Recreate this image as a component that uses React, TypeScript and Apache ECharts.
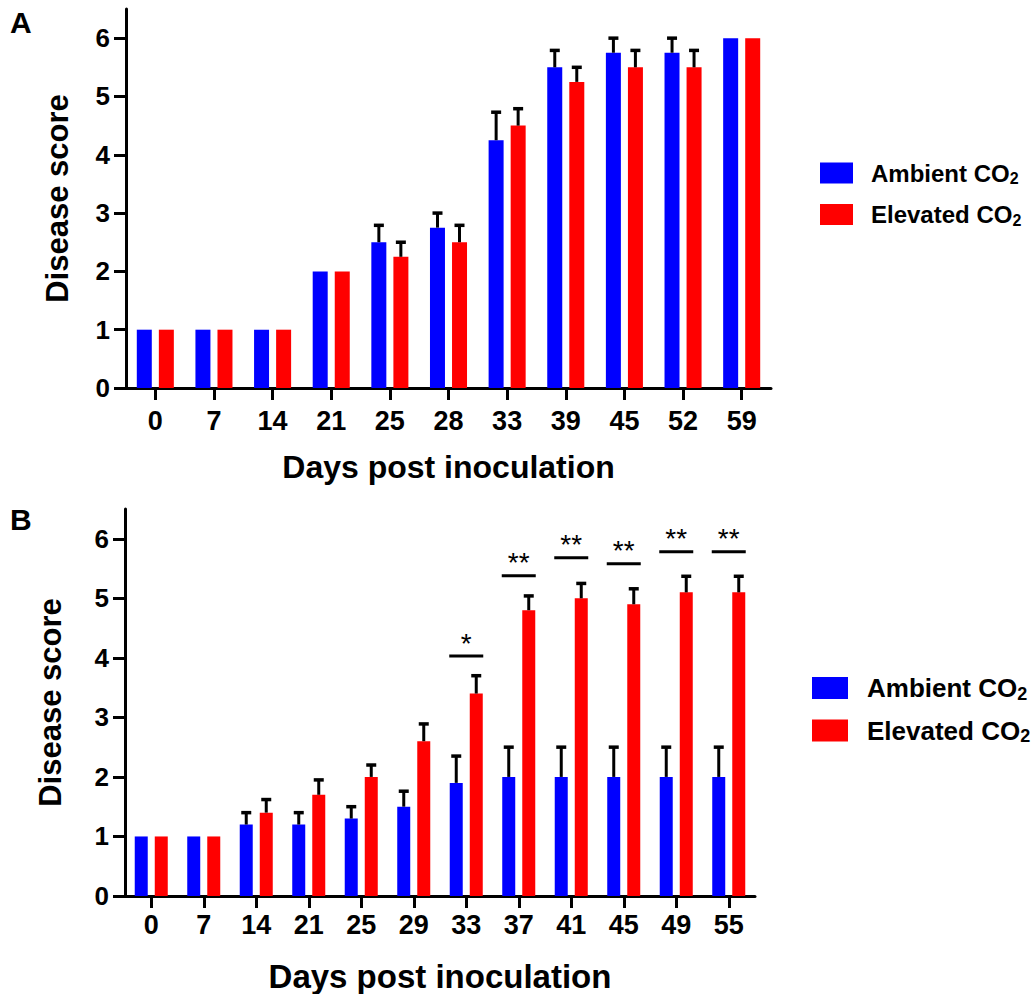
import React, { useEffect, useRef } from "react";
import * as echarts from "echarts";

// ---------- Data ----------
const yTicks = [0, 1, 2, 3, 4, 5, 6];

const daysA = ["0", "7", "14", "21", "25", "28", "33", "39", "45", "52", "59"];
const ambientA = [1, 1, 1, 2, 2.5, 2.75, 4.25, 5.5, 5.75, 5.75, 6];
const elevatedA = [1, 1, 1, 2, 2.25, 2.5, 4.5, 5.25, 5.5, 5.5, 6];
const ambientErrA = [0, 0, 0, 0, 0.29, 0.25, 0.48, 0.29, 0.25, 0.25, 0];
const elevatedErrA = [0, 0, 0, 0, 0.25, 0.29, 0.29, 0.25, 0.29, 0.29, 0];

const daysB = ["0", "7", "14", "21", "25", "29", "33", "37", "41", "45", "49", "55"];
const ambientB = [1, 1, 1.2, 1.2, 1.3, 1.5, 1.9, 2, 2, 2, 2, 2];
const elevatedB = [1, 1, 1.4, 1.7, 2, 2.6, 3.4, 4.8, 5, 4.9, 5.1, 5.1];
const ambientErrB = [0, 0, 0.2, 0.2, 0.2, 0.26, 0.45, 0.5, 0.5, 0.5, 0.5, 0.5];
const elevatedErrB = [0, 0, 0.22, 0.25, 0.2, 0.29, 0.3, 0.24, 0.25, 0.26, 0.27, 0.27];
const sigLabelsB = ["", "", "", "", "", "", "*", "**", "**", "**", "**", "**"];
const sigLevelsB = [null, null, null, null, null, null, 4.03, 5.38, 5.68, 5.58, 5.78, 5.78];

const seriesNames = ["Ambient CO2", "Elevated CO2"];

// ---------- Styling ----------
const FONT = '"Liberation Sans", Arial, Helvetica, sans-serif';
const BLUE = "#0000ff";
const RED = "#ff0000";

function errData(values: number[], errs: number[]) {
  const out: number[][] = [];
  values.forEach((v, i) => {
    if (errs[i] > 0) out.push([i, v, v + errs[i]]);
  });
  return out;
}

function errRender(offset: number) {
  return (params: any, api: any) => {
    const i = api.value(0);
    const base = api.coord([i, api.value(1)]);
    const top = api.coord([i, api.value(2)]);
    const x = base[0] + offset;
    return {
      type: "group",
      children: [
        { type: "line", shape: { x1: x, y1: base[1], x2: x, y2: top[1] }, style: { stroke: "#000", lineWidth: 3 } },
        { type: "line", shape: { x1: x - 5, y1: top[1], x2: x + 5, y2: top[1] }, style: { stroke: "#000", lineWidth: 3.5 } },
      ],
    };
  };
}

function sigRender(params: any, api: any) {
  const i = api.value(0);
  const p = api.coord([i, api.value(1)]);
  return {
    type: "group",
    children: [
      { type: "line", shape: { x1: p[0] - 17, y1: p[1], x2: p[0] + 17, y2: p[1] }, style: { stroke: "#000", lineWidth: 3 } },
      {
        type: "text",
        x: p[0],
        y: p[1] + 1,
        style: { text: sigLabelsB[i], fill: "#000", font: `28px ${FONT}`, align: "center", verticalAlign: "bottom" },
      },
    ],
  };
}

function yAxisCfg(gridIndex: number, nameGap: number) {
  return {
    gridIndex,
    type: "value",
    min: 0,
    max: 6.5,
    interval: 1,
    axisLine: { show: true, lineStyle: { color: "#000", width: 3 } },
    axisTick: { show: true, length: 12, customValues: yTicks, lineStyle: { color: "#000", width: 3 } },
    axisLabel: { customValues: yTicks, fontSize: 26, fontWeight: "bold", color: "#000", fontFamily: FONT, margin: 16 },
    splitLine: { show: false },
    name: "Disease score",
    nameLocation: "middle",
    nameGap,
    nameRotate: 90,
    nameTextStyle: { fontSize: 31, fontWeight: "bold", color: "#000", fontFamily: FONT },
  };
}

function xAxisCfg(gridIndex: number, data: string[], nameGap: number, margin: number, nameSize: number) {
  return {
    gridIndex,
    type: "category",
    data,
    axisLine: { show: true, lineStyle: { color: "#000", width: 3 } },
    axisTick: { show: true, alignWithLabel: true, length: 12, lineStyle: { color: "#000", width: 3 } },
    axisLabel: { fontSize: 27, fontWeight: "bold", color: "#000", fontFamily: FONT, margin, interval: 0 },
    name: "Days post inoculation",
    nameLocation: "middle",
    nameGap,
    nameTextStyle: { fontSize: nameSize, fontWeight: "bold", color: "#000", fontFamily: FONT },
  };
}

function legendCfg(left: number, top: number, w: number, h: number, gap: number, fs: number, pad: number) {
  return {
    orient: "vertical",
    left,
    top,
    padding: 0,
    itemWidth: w,
    itemHeight: h,
    itemGap: gap,
    icon: "rect",
    data: seriesNames,
    selectedMode: false,
    formatter: (name: string) => `{a|${name.slice(0, -1)}}{b|${name.slice(-1)}}`,
    textStyle: {
      padding: [0, 0, 0, pad],
      rich: {
        a: { fontSize: fs, fontWeight: "bold", fontFamily: FONT, color: "#000", lineHeight: fs + 3, verticalAlign: "middle" },
        b: { fontSize: Math.round(fs * 0.68), fontWeight: "bold", fontFamily: FONT, color: "#000", lineHeight: 10, verticalAlign: "bottom" },
      },
    },
  };
}

export default function App() {
  const ref = useRef<HTMLDivElement>(null);

  useEffect(() => {
    if (!ref.current) return;
    const chart = echarts.init(ref.current, null, { renderer: "svg", width: 1035, height: 994 });
    const option: any = {
      animation: false,
      backgroundColor: "#fff",
      grid: [
        { left: 126, top: 9, width: 645, height: 379 },
        { left: 125, top: 509, width: 630, height: 388 },
      ],
      xAxis: [xAxisCfg(0, daysA, 63, 19, 32), xAxisCfg(1, daysB, 64, 15, 33)],
      yAxis: [yAxisCfg(0, 53), yAxisCfg(1, 59)],
      legend: [legendCfg(820, 161, 33, 21, 16, 24, 13), legendCfg(812, 675, 36, 22, 15, 26, 14)],
      graphic: [
        { type: "text", left: 10, top: 7, style: { text: "A", font: `bold 30px ${FONT}`, fill: "#000" } },
        { type: "text", left: 10, top: 504, style: { text: "B", font: `bold 30px ${FONT}`, fill: "#000" } },
      ],
      series: [
        { name: seriesNames[0], type: "bar", xAxisIndex: 0, yAxisIndex: 0, data: ambientA, barWidth: 15, barGap: "47%", itemStyle: { color: BLUE } },
        { name: seriesNames[1], type: "bar", xAxisIndex: 0, yAxisIndex: 0, data: elevatedA, barWidth: 15, barGap: "47%", itemStyle: { color: RED } },
        { type: "custom", xAxisIndex: 0, yAxisIndex: 0, data: errData(ambientA, ambientErrA), encode: { x: 0, y: [1, 2] }, renderItem: errRender(-11), silent: true, z: 3 },
        { type: "custom", xAxisIndex: 0, yAxisIndex: 0, data: errData(elevatedA, elevatedErrA), encode: { x: 0, y: [1, 2] }, renderItem: errRender(11), silent: true, z: 3 },
        { name: seriesNames[0], type: "bar", xAxisIndex: 1, yAxisIndex: 1, data: ambientB, barWidth: 13, barGap: "54%", itemStyle: { color: BLUE } },
        { name: seriesNames[1], type: "bar", xAxisIndex: 1, yAxisIndex: 1, data: elevatedB, barWidth: 13, barGap: "54%", itemStyle: { color: RED } },
        { type: "custom", xAxisIndex: 1, yAxisIndex: 1, data: errData(ambientB, ambientErrB), encode: { x: 0, y: [1, 2] }, renderItem: errRender(-10), silent: true, z: 3 },
        { type: "custom", xAxisIndex: 1, yAxisIndex: 1, data: errData(elevatedB, elevatedErrB), encode: { x: 0, y: [1, 2] }, renderItem: errRender(10), silent: true, z: 3 },
        {
          type: "custom",
          xAxisIndex: 1,
          yAxisIndex: 1,
          data: sigLevelsB.map((v, i) => (v == null ? null : [i, v])).filter((d) => d != null),
          encode: { x: 0, y: 1 },
          renderItem: sigRender,
          silent: true,
          z: 3,
        },
      ],
    };
    chart.setOption(option);
    return () => chart.dispose();
  }, []);

  return <div ref={ref} style={{ position: "absolute", left: 0, top: 0, width: 1035, height: 994 }} />;
}
